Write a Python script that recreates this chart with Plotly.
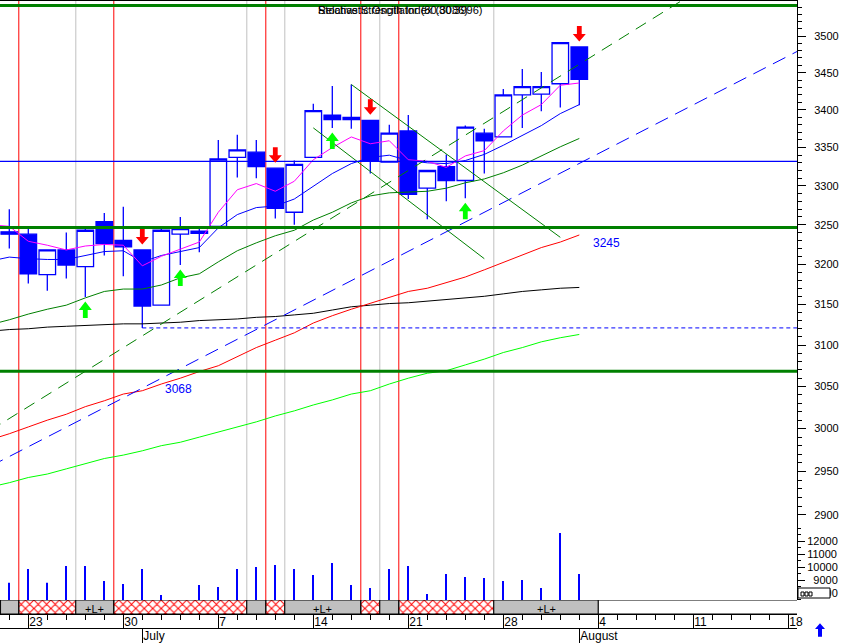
import numpy as np
import pandas as pd
import plotly.graph_objects as go

# ---------------- data ----------------
dates = pd.bdate_range("2003-06-20", periods=31)          # trading days Jun 20 .. Aug 1
day_idx = list(range(31))
opens  = [3241,3238,3187,3218,3197,3254,3230,3218,3149,3238,3239,3248,3337,3344,3323,3266,3337,3393,3387,3386,3331,3372,3297,3325,3307,3369,3364,3420,3421,3435,3485]
highs  = [3270,3247,3218,3240,3247,3265,3273,3218,3245,3260,3246,3360,3367,3360,3323,3333,3408,3432,3434,3386,3380,3393,3320,3341,3379,3375,3428,3455,3451,3491,3485]
lows   = [3220,3176,3167,3182,3159,3211,3185,3121,3149,3199,3215,3248,3311,3310,3258,3250,3337,3376,3375,3316,3331,3283,3257,3280,3284,3316,3364,3376,3398,3403,3406]
closes = [3238,3188,3218,3199,3243,3226,3222,3148,3243,3245,3242,3335,3347,3325,3271,3328,3399,3387,3390,3332,3369,3289,3320,3307,3377,3359,3420,3431,3431,3491,3441]
volume = [8790,9850,8790,10090,10090,8920,8690,9850,7840,7300,8610,8460,9850,10010,10160,9850,9390,10320,8610,8380,9850,10090,7920,9470,9230,9160,8920,9000,8380,12640,9470]

# moving averages, from the day before Jun 20 (index -1) to Aug 1
ma_idx = list(range(-1, 31))
ma_magenta = [3250,3248,3229,3224,3218,3223,3225,3224,3198,3210,3219,3228,3266,3295,3303,3293,3306,3334,3350,3364,3355,3359,3334,3332,3324,3339,3346,3372,3393,3407,3433,3436]
ma_blue    = [3204,3209,3207,3206,3206,3211,3216,3217,3203,3211,3216,3221,3246,3263,3272,3274,3283,3299,3316,3329,3337,3340,3333,3330,3329,3333,3341,3353,3366,3379,3395,3407]
ma_green   = [3125,3131,3138,3144,3149,3158,3166,3169,3169,3174,3183,3188,3203,3217,3227,3236,3243,3256,3266,3278,3287,3291,3292,3293,3297,3304,3309,3317,3327,3339,3351,3362]
ma_red     = [2987,2994,3002,3010,3017,3026,3033,3041,3045,3053,3060,3068,3075,3086,3097,3106,3115,3127,3136,3144,3151,3158,3166,3170,3177,3184,3193,3202,3211,3221,3228,3237]
ma_lime    = [2932,2937,2943,2947,2953,2959,2965,2969,2974,2980,2984,2990,2996,3002,3008,3015,3021,3028,3034,3041,3045,3053,3060,3066,3069,3076,3083,3091,3097,3104,3109,3113]
ma_black   = [3117,3119,3120,3122,3123,3124,3125,3126,3126,3127,3128,3130,3131,3132,3134,3135,3137,3139,3143,3147,3149,3151,3152,3154,3156,3158,3160,3163,3166,3168,3170,3171]

# trend lines (start index, start price, end index, end price)
trend_green_dash = ([-1, 36], [2998, 3559])
trend_blue_dash  = ([-1, 42], [2956, 3486])
trend_down_1     = ([16, 25], [3376, 3207])
trend_down_2     = ([18, 29], [3434, 3234])

# horizontal levels
level_top      = 3542
level_pivot    = 3332
level_support1 = 3246.5
level_support2 = 3068.5
level_low      = 3121           # July 1 low, drawn from index 7 onward
label_support1 = "3245"
label_support2 = "3068"

sell_signals = [7, 14, 19, 30]
buy_signals  = [4, 9, 17, 24]
red_lines  = [0.5, 5.5, 13.5, 18.5, 20.5]
gray_lines = [3.5, 12.5, 14.5, 19.5, 25.5]

band_edges = [-0.46, 0.5, 3.5, 5.5, 12.5, 13.5, 14.5, 18.5, 19.5, 20.5, 25.5, 31, 42]
band_kind  = ['g', 'h', 'L', 'h', 'g', 'h', 'L', 'h', 'g', 'h', 'L', 'w']

axis_days = pd.bdate_range("2003-06-20", periods=42)
price_ticks = list(range(2900, 3501, 50))
price_minor = [v for v in range(2890, 3550, 10) if v % 50]
vol_ticks = [8000, 9000, 10000, 11000, 12000]
month_ticks = [7, 30]
month_text = ["July", "August"]

# ---------------- layout helpers ----------------
W, H, RM = 844, 643, 47
PW = W - RM
def py(p):
    return (H - p) / H
FONT = "Liberation Sans, Arial, sans-serif"
x_range = [-9.3 / 19, (PW - 9.3) / 19]

fig = go.Figure()

for xv in red_lines:
    fig.add_shape(type="line", xref="x", yref="paper", x0=xv, x1=xv, y0=py(600), y1=1,
                  line=dict(color="#ff0000", width=1), layer="below")
for xv in gray_lines:
    fig.add_shape(type="line", xref="x", yref="paper", x0=xv, x1=xv, y0=py(600), y1=1,
                  line=dict(color="#c0c0c0", width=1), layer="below")

# volume
fig.add_trace(go.Bar(x=day_idx, y=volume, width=0.07, yaxis="y2",
                     marker=dict(color="#0000ff", line=dict(width=0)), hoverinfo="skip"))

# signal band
centers = [(a + b) / 2 for a, b in zip(band_edges[:-1], band_edges[1:])]
widths = [b - a for a, b in zip(band_edges[:-1], band_edges[1:])]
band_fill = {"g": "#c0c0c0", "L": "#c0c0c0", "h": "#ff0000", "w": "#ffffff"}
fig.add_trace(go.Bar(
    x=centers, y=[1] * len(centers), width=widths, base=0, yaxis="y3",
    marker=dict(color=[band_fill[k] for k in band_kind],
                line=dict(color="black", width=1),
                pattern=dict(shape=["x" if k == "h" else "" for k in band_kind],
                             bgcolor="#ffffff", fillmode="replace", size=6, solidity=0.3)),
    hoverinfo="skip"))
for c, k in zip(centers, band_kind):
    if k == "L":
        fig.add_annotation(x=c, y=py(608.5), xref="x", yref="paper", text="+L+", showarrow=False,
                           yanchor="middle", font=dict(family=FONT, size=11, color="black"))

# candles
fig.add_trace(go.Candlestick(
    x=day_idx, open=opens, high=highs, low=lows, close=closes, whiskerwidth=0,
    increasing=dict(line=dict(color="#0000ff", width=1.3), fillcolor="#ffffff"),
    decreasing=dict(line=dict(color="#0000ff", width=1.3), fillcolor="#0000ff"),
    hoverinfo="skip"))

# moving averages
for ys, col in [(ma_black, "#000000"), (ma_lime, "#00ff00"), (ma_red, "#ff0000"),
                (ma_green, "#008000"), (ma_blue, "#0000ff"), (ma_magenta, "#ff00ff")]:
    fig.add_trace(go.Scatter(x=ma_idx, y=ys, mode="lines", line=dict(color=col, width=1),
                             hoverinfo="skip"))

# trend lines
fig.add_trace(go.Scatter(x=trend_green_dash[0], y=trend_green_dash[1], mode="lines",
                         line=dict(color="#008000", width=1, dash="12px,8px"), hoverinfo="skip"))
fig.add_trace(go.Scatter(x=trend_blue_dash[0], y=trend_blue_dash[1], mode="lines",
                         line=dict(color="#0000ff", width=1, dash="14px,8px"), hoverinfo="skip"))
for tl in (trend_down_1, trend_down_2):
    fig.add_trace(go.Scatter(x=tl[0], y=tl[1], mode="lines",
                             line=dict(color="#008000", width=1), hoverinfo="skip"))

# horizontal levels
span = [-1, 42]
for lv, col, w in [(level_top, "#008000", 3), (level_support1, "#008000", 3),
                   (level_support2, "#008000", 3), (level_pivot, "#0000ff", 1.2)]:
    fig.add_trace(go.Scatter(x=span, y=[lv, lv], mode="lines", line=dict(color=col, width=w),
                             hoverinfo="skip"))
fig.add_trace(go.Scatter(x=[7, 42], y=[level_low, level_low], mode="lines",
                         line=dict(color="#0000ff", width=1, dash="4px,3px"), hoverinfo="skip"))

fig.add_annotation(x=30.6, y=np.log10(level_support1), xref="x", yref="y", yshift=-15,
                   text=label_support1, showarrow=False, xanchor="left",
                   font=dict(family=FONT, size=12, color="#0000ff"))
fig.add_annotation(x=8.09, y=np.log10(level_support2), xref="x", yref="y", yshift=-18,
                   text=label_support2, showarrow=False, xanchor="left",
                   font=dict(family=FONT, size=12, color="#0000ff"))

# signal arrows
down_path = "M -2.4,21 L 2.4,21 L 2.4,13 L 6.5,13 L 0,5.5 L -6.5,13 L -2.4,13 Z"
up_path = "M -2.4,-21 L 2.4,-21 L 2.4,-13 L 6.5,-13 L 0,-4.5 L -6.5,-13 L -2.4,-13 Z"
for i in sell_signals:
    fig.add_shape(type="path", xref="x", yref="y", xsizemode="pixel", ysizemode="pixel",
                  xanchor=i, yanchor=highs[i], path=down_path, fillcolor="#ff0000",
                  line=dict(width=0), layer="above")
for i in buy_signals:
    fig.add_shape(type="path", xref="x", yref="y", xsizemode="pixel", ysizemode="pixel",
                  xanchor=i, yanchor=lows[i], path=up_path, fillcolor="#00ff00",
                  line=dict(width=0), layer="above")

# frame top
fig.add_shape(type="line", xref="paper", yref="paper", x0=0, x1=1, y0=1, y1=1,
              line=dict(color="black", width=2))

# little scroll widget and blue arrow in the right margin
fig.add_shape(type="rect", xref="paper", yref="paper", xsizemode="pixel", ysizemode="pixel",
              xanchor=1, yanchor=0, x0=1, x1=33, y0=45, y1=55,
              fillcolor="white", line=dict(color="black", width=1), layer="above")
for k in range(3):
    fig.add_shape(type="rect", xref="paper", yref="paper", xsizemode="pixel", ysizemode="pixel",
                  xanchor=1, yanchor=0, x0=4 + 4 * k, x1=7 + 4 * k, y0=47, y1=51,
                  fillcolor="white", line=dict(color="black", width=1), layer="above")
fig.add_shape(type="path", xref="paper", yref="paper", xsizemode="pixel", ysizemode="pixel",
              xanchor=1, yanchor=0,
              path="M 21,6.3 L 25,6.3 L 25,14 L 28,14 L 23,19.7 L 18,14 L 21,14 Z",
              fillcolor="#0000ff", line=dict(width=0), layer="above")

# overlapping indicator captions
for txt in ["Relative Strength Index (80.3996)", "Stochastic Oscillator (80.3086)"]:
    fig.add_annotation(x=316 / PW, y=py(9.7), xref="paper", yref="paper", text=txt,
                       showarrow=False, xanchor="left", yanchor="middle",
                       font=dict(family=FONT, size=11, color="black"))

# invisible trace for month axis
fig.add_trace(go.Scatter(x=[], y=[], xaxis="x2", yaxis="y", hoverinfo="skip"))

axis_common = dict(showgrid=False, zeroline=False, automargin=False)
fig.update_layout(
    width=W, height=H, margin=dict(l=0, r=RM, t=0, b=0),
    paper_bgcolor="white", plot_bgcolor="white", showlegend=False,
    barmode="overlay", boxgap=0.13, boxgroupgap=0,
    xaxis=dict(domain=[0, 1], range=x_range, anchor="y3", rangeslider=dict(visible=False),
               tickmode="array", tickvals=[i for i, d in enumerate(axis_days) if d.weekday() == 0],
               ticktext=[str(d.day) for d in axis_days if d.weekday() == 0],
               ticks="outside", ticklen=14, tickcolor="black", tickwidth=1,
               showline=True, linecolor="black", linewidth=1,
               ticklabelposition="outside right", ticklabelstandoff=-3,
               minor=dict(tick0=0, dtick=1, ticks="outside", ticklen=5, tickcolor="black"),
               tickfont=dict(family=FONT, size=12, color="black"), **axis_common),
    xaxis2=dict(overlaying="x", anchor="free", position=py(628), range=x_range,
                tickmode="array", tickvals=month_ticks, ticktext=month_text,
                ticks="outside", ticklen=15, tickcolor="black", showline=True,
                linecolor="black", linewidth=1, ticklabelposition="outside right",
                ticklabelstandoff=-3, tickfont=dict(family=FONT, size=12, color="black"),
                **axis_common),
    yaxis=dict(type="log", domain=[py(522), 1], range=[3.461203, 3.550206], anchor="x",
               side="right", showline=True, linecolor="black", linewidth=1,
               tickmode="array", tickvals=price_ticks, ticktext=[str(v) for v in price_ticks],
               ticks="outside", ticklen=8, tickcolor="black",
               minor=dict(tickvals=price_minor, ticks="outside", ticklen=4, tickcolor="black"),
               ticklabelstandoff=6, tickfont=dict(family=FONT, size=11, color="black"),
               **axis_common),
    yaxis2=dict(domain=[py(600), py(522)], range=[7449.6, 13496.1], anchor="x", side="right",
                showline=True, linecolor="black", linewidth=1,
                tickmode="array", tickvals=vol_ticks,
                ticktext=[("\u00a0\u00a0" if v < 10000 else "") + str(v) for v in vol_ticks],
                ticks="outside", ticklen=7, tickcolor="black",
                minor=dict(tick0=0, dtick=500, ticks="outside", ticklen=3, tickcolor="black"),
                ticklabelstandoff=0, tickfont=dict(family=FONT, size=11, color="black"),
                **axis_common),
    yaxis3=dict(domain=[py(614), py(600)], range=[0, 1], anchor="x", visible=False,
                **axis_common),
)

fig.write_html("out.html", config={"displayModeBar": False},
               post_script="document.body.style.margin='0px';")
